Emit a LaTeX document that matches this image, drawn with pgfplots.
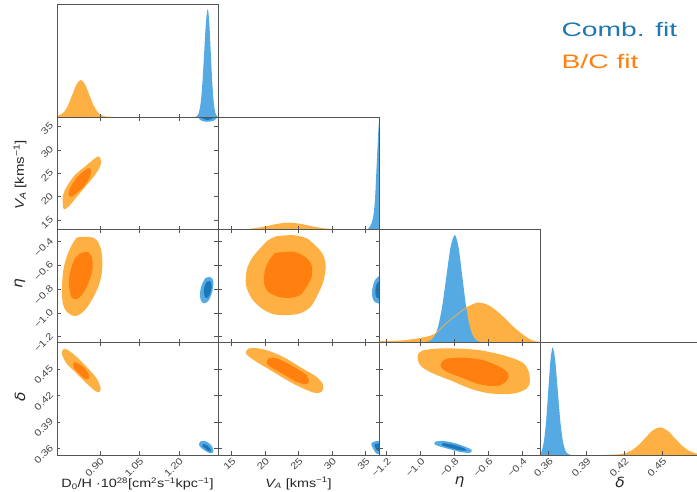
\documentclass[border=0pt]{standalone}
\usepackage{pgfplots}
\pgfplotsset{compat=1.18}
\usepackage{fontspec}
\setmainfont{Liberation Sans}[FakeStretch=1.2]
\newfontfamily\greekf{DejaVu Sans}[FakeStretch=1.1]
\newfontfamily\legf{Liberation Sans}[FakeStretch=1.45]
\definecolor{lblue}{RGB}{85,170,228}
\definecolor{dblue}{RGB}{28,118,186}
\definecolor{lorange}{RGB}{255,176,66}
\definecolor{dorange}{RGB}{255,128,14}
\definecolor{framec}{RGB}{85,85,85}
\definecolor{tickc}{RGB}{70,70,70}
\definecolor{legblue}{RGB}{31,119,180}
\pgfplotsset{
  cp/.style={scale only axis, width=161pt, height=112.6pt, anchor=south west,
    axis on top,
    axis line style={draw=framec, line width=0.8pt},
    tick align=inside, major tick length=3.5pt,
    every tick/.append style={draw=framec, line width=0.7pt},
    tick label style={font=\fontsize{9.5}{10}\selectfont, text=tickc},
    x tick label style={rotate=45, anchor=north east, inner sep=1.5pt},
    y tick label style={rotate=45, anchor=south east, inner sep=2pt},
    xticklabels={}, yticklabels={}},
  dg/.style={cp, ymin=0, ymax=1, ytick=\empty, xtick pos=bottom},
  xD/.style={xmin=0.7367, xmax=1.348, xtick={0.90,1.05,1.20}},
  xV/.style={xmin=12.95, xmax=37.0, xtick={15,20,25,30,35}},
  xE/.style={xmin=-1.246, xmax=-0.298, xtick={-1.2,-1.0,-0.8,-0.6,-0.4}},
  xS/.style={xmin=0.353, xmax=0.4805, xtick={0.36,0.39,0.42,0.45}},
  yV/.style={ymin=12.95, ymax=37.0, ytick={15,20,25,30,35}},
  yE/.style={ymin=-1.246, ymax=-0.298, ytick={-1.2,-1.0,-0.8,-0.6,-0.4}},
  yS/.style={ymin=0.353, ymax=0.4805, ytick={0.36,0.39,0.42,0.45}},
}
\begin{document}
\begin{tikzpicture}
\useasboundingbox (0pt,0pt) rectangle (697pt,491pt);

% ---- D0/H 1D
\begin{axis}[dg, xD, at={(57pt,373.9pt)}]
\addplot[fill=lorange, draw=none, smooth] coordinates {(0.7367,0.006) (0.763,0.0447) (0.779,0.107) (0.795,0.200) (0.811,0.291) (0.827,0.33) (0.843,0.291) (0.859,0.200) (0.875,0.107) (0.891,0.0447) (0.907,0.0145) (0.923,0.005) (0.94,0.003) (0.96,0.0)} \closedcycle;
\addplot[fill=lblue, draw=none, smooth] coordinates {(1.262,0.002) (1.269,0.0107) (1.2757,0.042) (1.2824,0.130) (1.289,0.312) (1.2957,0.582) (1.3024,0.847) (1.309,0.96) (1.3147,0.847) (1.3204,0.582) (1.3261,0.312) (1.3318,0.130) (1.3375,0.042) (1.3432,0.0107) (1.348,0.002)} \closedcycle;
\end{axis}

% ---- V_A vs D0/H
\begin{axis}[cp, xD, yV, at={(57pt,261.3pt)}, yticklabels={15,20,25,30,35}]
\addplot[fill=lorange, draw=none, smooth] coordinates {(0.7606,17.5) (0.7584,19.99) (0.7735,22.14) (0.805,24.64) (0.843,26.42) (0.881,28.22) (0.8973,28.57) (0.9038,27.50) (0.90,26.42) (0.881,24.64) (0.8495,22.50) (0.8176,20.36) (0.786,18.21) (0.767,17.29) (0.7606,17.5)};
\addplot[fill=dorange, draw=none, smooth] coordinates {(0.7796,20.36) (0.786,21.79) (0.805,23.57) (0.8305,25.14) (0.8556,26.08) (0.8658,25.72) (0.862,24.28) (0.843,22.50) (0.8176,21.06) (0.7925,19.99) (0.7796,20.36)};
\addplot[fill=lblue, draw=none, smooth] coordinates {(1.272,37.5) (1.274,36.9) (1.280,36.4) (1.292,36.1) (1.305,36.0) (1.322,36.1) (1.336,36.35) (1.344,36.8) (1.347,37.5)};
\addplot[fill=dblue, draw=none, smooth] coordinates {(1.284,37.5) (1.287,36.9) (1.295,36.55) (1.307,36.4) (1.320,36.5) (1.330,36.8) (1.334,37.5)};
\end{axis}

% ---- V_A 1D
\begin{axis}[dg, xV, at={(218pt,261.3pt)}]
\addplot[fill=lorange, draw=none, smooth] coordinates {(12.95,0.0001) (14.85,0.0007) (16.3,0.0027) (17.75,0.0084) (19.2,0.0201) (20.65,0.0376) (22.1,0.0547) (23.55,0.062) (25.0,0.0547) (26.45,0.0376) (27.9,0.0201) (29.35,0.0084) (30.8,0.0027) (32.25,0.0007) (33.7,0.00014) (37.0,0)} \closedcycle;
\addplot[fill=lblue, draw=none, smooth] coordinates {(35.2,0) (35.64,0.027) (36.09,0.10) (36.39,0.26) (36.64,0.56) (36.88,0.856) (36.99,0.96)} \closedcycle;
\end{axis}

% ---- eta vs D0/H
\begin{axis}[cp, xD, yE, at={(57pt,148.7pt)}, yticklabels={−1.2,−1.0,−0.8,−0.6,−0.4}]
\addplot[fill=lorange, draw=none, smooth] coordinates {(0.8115,-0.363) (0.862,-0.358) (0.8875,-0.386) (0.9027,-0.456) (0.9087,-0.554) (0.9065,-0.666) (0.8935,-0.779) (0.8685,-0.891) (0.843,-0.975) (0.8176,-1.017) (0.7986,-1.023) (0.7735,-0.989) (0.7584,-0.919) (0.7557,-0.779) (0.7606,-0.638) (0.7735,-0.526) (0.7925,-0.428) (0.8115,-0.363)};
\addplot[fill=dorange, draw=none, smooth] coordinates {(0.824,-0.498) (0.8518,-0.484) (0.8685,-0.526) (0.8723,-0.611) (0.8647,-0.695) (0.8495,-0.779) (0.8305,-0.849) (0.8115,-0.883) (0.7925,-0.868) (0.7834,-0.792) (0.7834,-0.695) (0.7925,-0.611) (0.805,-0.540) (0.824,-0.498)};
\addplot[fill=lblue, draw=none, smooth] coordinates {(1.2987,-0.708) (1.3151,-0.695) (1.328,-0.717) (1.3302,-0.765) (1.3242,-0.835) (1.3113,-0.897) (1.2949,-0.919) (1.2824,-0.891) (1.2797,-0.829) (1.2862,-0.765) (1.2987,-0.708)};
\addplot[fill=dblue, draw=none, smooth] coordinates {(1.3052,-0.737) (1.3177,-0.731) (1.3242,-0.765) (1.3204,-0.821) (1.3113,-0.863) (1.3014,-0.872) (1.2949,-0.835) (1.2961,-0.779) (1.3052,-0.737)};
\end{axis}

% ---- eta vs V_A
\begin{axis}[cp, xV, yE, at={(218pt,148.7pt)}]
\addplot[fill=lorange, draw=none, smooth] coordinates {(21.72,-0.352) (24.19,-0.344) (26.19,-0.371) (27.69,-0.442) (28.67,-0.512) (29.03,-0.611) (28.67,-0.737) (27.69,-0.863) (26.69,-0.952) (25.19,-1.003) (23.21,-1.017) (21.21,-1.009) (19.48,-0.961) (17.99,-0.877) (17.13,-0.765) (17.24,-0.638) (17.99,-0.540) (19.22,-0.456) (20.46,-0.386) (21.72,-0.352)};
\addplot[fill=dorange, draw=none, smooth] coordinates {(21.46,-0.493) (24.19,-0.484) (25.94,-0.526) (26.94,-0.596) (26.94,-0.695) (26.19,-0.779) (25.19,-0.849) (23.70,-0.872) (21.96,-0.863) (20.46,-0.821) (19.82,-0.750) (19.97,-0.638) (20.61,-0.554) (21.46,-0.493)};
\addplot[fill=lblue, draw=none, smooth] coordinates {(37.5,-0.69) (36.99,-0.690) (36.5,-0.715) (36.2,-0.75) (35.98,-0.807) (36.0,-0.866) (36.35,-0.905) (36.99,-0.92) (37.5,-0.92)};
\addplot[fill=dblue, draw=none, smooth] coordinates {(37.5,-0.73) (36.99,-0.735) (36.6,-0.76) (36.45,-0.81) (36.55,-0.86) (36.99,-0.88) (37.5,-0.88)};
\end{axis}

% ---- eta 1D
\begin{axis}[dg, xE, at={(379pt,148.7pt)}]
\addplot[fill=lorange, draw=none, smooth] coordinates {(-1.245,0.005) (-1.2,0.009) (-1.102,0.014) (-1.004,0.035) (-0.926,0.065) (-0.877,0.13) (-0.828,0.198) (-0.779,0.255) (-0.729,0.31) (-0.661,0.352) (-0.592,0.322) (-0.514,0.227) (-0.455,0.139) (-0.396,0.065) (-0.357,0.027) (-0.328,0.01) (-0.298,0.004)} \closedcycle;
\addplot[fill=lblue, draw=none, smooth] coordinates {(-0.975,0.001) (-0.95,0.0106) (-0.925,0.042) (-0.9,0.129) (-0.875,0.309) (-0.85,0.578) (-0.825,0.841) (-0.8,0.953) (-0.7775,0.841) (-0.755,0.578) (-0.7325,0.309) (-0.71,0.129) (-0.6875,0.042) (-0.665,0.0106) (-0.64,0.001)} \closedcycle;
\addplot[draw=lorange, line width=0.7pt, smooth] coordinates {(-1.245,0.005) (-1.2,0.009) (-1.102,0.014) (-1.004,0.035) (-0.926,0.065) (-0.877,0.13) (-0.828,0.198) (-0.779,0.255) (-0.729,0.31) (-0.661,0.352)};
\end{axis}

% ---- delta vs D0/H
\begin{axis}[cp, xD, yS, at={(57pt,36.1pt)}, xticklabels={0.90,1.05,1.20}, yticklabels={0.36,0.39,0.42,0.45}]
\addplot[fill=lorange, draw=none, smooth] coordinates {(0.7633,0.4734) (0.7796,0.4715) (0.8115,0.4639) (0.8495,0.4526) (0.8875,0.4395) (0.9027,0.4282) (0.8973,0.4244) (0.881,0.4255) (0.843,0.4357) (0.805,0.4470) (0.7735,0.4564) (0.7568,0.4658) (0.7568,0.4707) (0.7633,0.4734)};
\addplot[fill=dorange, draw=none, smooth] coordinates {(0.8013,0.4582) (0.8176,0.4564) (0.843,0.4508) (0.8594,0.4421) (0.8518,0.4384) (0.8366,0.4406) (0.8138,0.4470) (0.7986,0.4526) (0.8013,0.4582)};
\addplot[fill=lblue, draw=none, smooth] coordinates {(1.2797,0.3679) (1.2949,0.3690) (1.3113,0.3668) (1.3264,0.3623) (1.3302,0.3566) (1.3204,0.3548) (1.3052,0.3566) (1.2862,0.3605) (1.2759,0.3642) (1.2797,0.3679)};
\addplot[fill=dblue, draw=none, smooth] coordinates {(1.2923,0.3653) (1.3052,0.3642) (1.3177,0.3605) (1.3215,0.3574) (1.3113,0.3574) (1.2987,0.3605) (1.2885,0.3631) (1.2923,0.3653)};
\end{axis}

% ---- delta vs V_A
\begin{axis}[cp, xV, yS, at={(218pt,36.1pt)}, xticklabels={15,20,25,30,35}]
\addplot[fill=lorange, draw=none, smooth] coordinates {(17.48,0.4734) (18.48,0.4740) (20.22,0.4715) (22.70,0.4639) (25.19,0.4526) (27.69,0.4413) (28.67,0.4319) (28.43,0.4244) (27.43,0.4232) (25.69,0.4282) (23.70,0.4357) (21.21,0.4470) (18.73,0.4582) (17.33,0.4658) (17.09,0.4695) (17.48,0.4734)};
\addplot[fill=dorange, draw=none, smooth] coordinates {(20.46,0.4621) (21.46,0.4628) (22.96,0.4582) (24.70,0.4508) (26.19,0.4432) (26.54,0.4357) (25.94,0.4331) (24.70,0.4357) (22.96,0.4432) (21.21,0.4508) (20.22,0.4564) (20.46,0.4621)};
\addplot[fill=lblue, draw=none, smooth] coordinates {(37.5,0.369) (36.5,0.3685) (35.9,0.3668) (35.85,0.3645) (36.1,0.3605) (36.6,0.3545) (37.5,0.354)};
\addplot[fill=dblue, draw=none, smooth] coordinates {(37.5,0.366) (36.4,0.3655) (36.4,0.362) (36.8,0.3575) (37.5,0.3565)};
\end{axis}

% ---- delta vs eta
\begin{axis}[cp, xE, yS, at={(379pt,36.1pt)}, xticklabels={−1.2,−1.0,−0.8,−0.6,−0.4}]
\addplot[fill=lorange, draw=none, smooth] coordinates {(-0.9847,0.4715) (-0.9059,0.4734) (-0.7882,0.4734) (-0.6512,0.4715) (-0.5141,0.4658) (-0.4059,0.4582) (-0.3671,0.4489) (-0.3571,0.4357) (-0.3765,0.4282) (-0.4353,0.4232) (-0.5141,0.4218) (-0.6118,0.4232) (-0.71,0.4282) (-0.8276,0.4376) (-0.9259,0.4451) (-0.9941,0.4526) (-1.0176,0.4602) (-1.0141,0.4677) (-0.9847,0.4715)};
\addplot[fill=dorange, draw=none, smooth] coordinates {(-0.847,0.4621) (-0.7494,0.4632) (-0.6318,0.4602) (-0.5335,0.4526) (-0.4847,0.4451) (-0.4906,0.4376) (-0.5335,0.4319) (-0.5924,0.4311) (-0.6706,0.4338) (-0.7688,0.4413) (-0.847,0.4470) (-0.8824,0.4526) (-0.8765,0.4582) (-0.847,0.4621)};
\addplot[fill=lblue, draw=none, smooth] coordinates {(-0.9159,0.3679) (-0.8765,0.3690) (-0.8082,0.3668) (-0.7394,0.3623) (-0.70,0.3586) (-0.71,0.3555) (-0.7588,0.3560) (-0.8276,0.3593) (-0.8965,0.3631) (-0.92,0.3653) (-0.9159,0.3679)};
\addplot[fill=dblue, draw=none, smooth] coordinates {(-0.8671,0.3664) (-0.8082,0.3645) (-0.7494,0.3608) (-0.7294,0.3581) (-0.7688,0.3581) (-0.8276,0.3611) (-0.8765,0.3641) (-0.8671,0.3664)};
\end{axis}

% ---- delta 1D
\begin{axis}[dg, xS, at={(540pt,36.1pt)}, xticklabels={0.36,0.39,0.42,0.45}]
\addplot[fill=lorange, draw=none, smooth] coordinates {(0.405,0.0005) (0.4126,0.0027) (0.4185,0.0108) (0.4244,0.0331) (0.4303,0.0796) (0.4362,0.1486) (0.4421,0.2162) (0.448,0.245) (0.4539,0.2162) (0.4598,0.1486) (0.4657,0.0796) (0.4716,0.0331) (0.4775,0.0108) (0.4805,0.006)} \closedcycle;
\addplot[fill=lblue, draw=none, smooth] coordinates {(0.3535,0.003) (0.3545,0.042) (0.3562,0.129) (0.3579,0.310) (0.3596,0.579) (0.3613,0.843) (0.363,0.955) (0.365,0.843) (0.367,0.579) (0.369,0.310) (0.371,0.129) (0.373,0.042) (0.375,0.0106) (0.377,0.002)} \closedcycle;
\end{axis}

% ---- axis labels
\node[font=\fontsize{12}{12}\selectfont, text=black!85] at (137.5pt,7pt) {D\textsubscript{0}/H ·10\textsuperscript{28}[cm\textsuperscript{2}s\textsuperscript{−1}kpc\textsuperscript{−1}]};
\node[font=\fontsize{12}{12}\selectfont, text=black!85] at (298.5pt,7.5pt) {{\itshape V\textsubscript{A}} [kms\textsuperscript{−1}]};
\node[font=\greekf\itshape\fontsize{14}{14}\selectfont, text=black!85] at (459.5pt,8.5pt) {η};
\node[font=\greekf\itshape\fontsize{14}{14}\selectfont, text=black!85] at (620pt,8.5pt) {δ};
\node[rotate=90, font=\fontsize{12.5}{13}\selectfont, text=black!85] at (20pt,316pt) {{\itshape V\textsubscript{A}} [kms\textsuperscript{−1}]};
\node[rotate=90, font=\greekf\itshape\fontsize{14}{14}\selectfont, text=black!85] at (20pt,207pt) {η};
\node[rotate=90, font=\greekf\itshape\fontsize{14}{14}\selectfont, text=black!85] at (20pt,94pt) {δ};
% ---- legend
\node[anchor=west, text=legblue, font=\legf\fontsize{19.5}{20}\selectfont] at (558pt,461pt) {Comb. fit};
\node[anchor=west, text=dorange, font=\legf\fontsize{19.5}{20}\selectfont] at (558pt,429.3pt) {B/C fit};
\end{tikzpicture}
\end{document}
